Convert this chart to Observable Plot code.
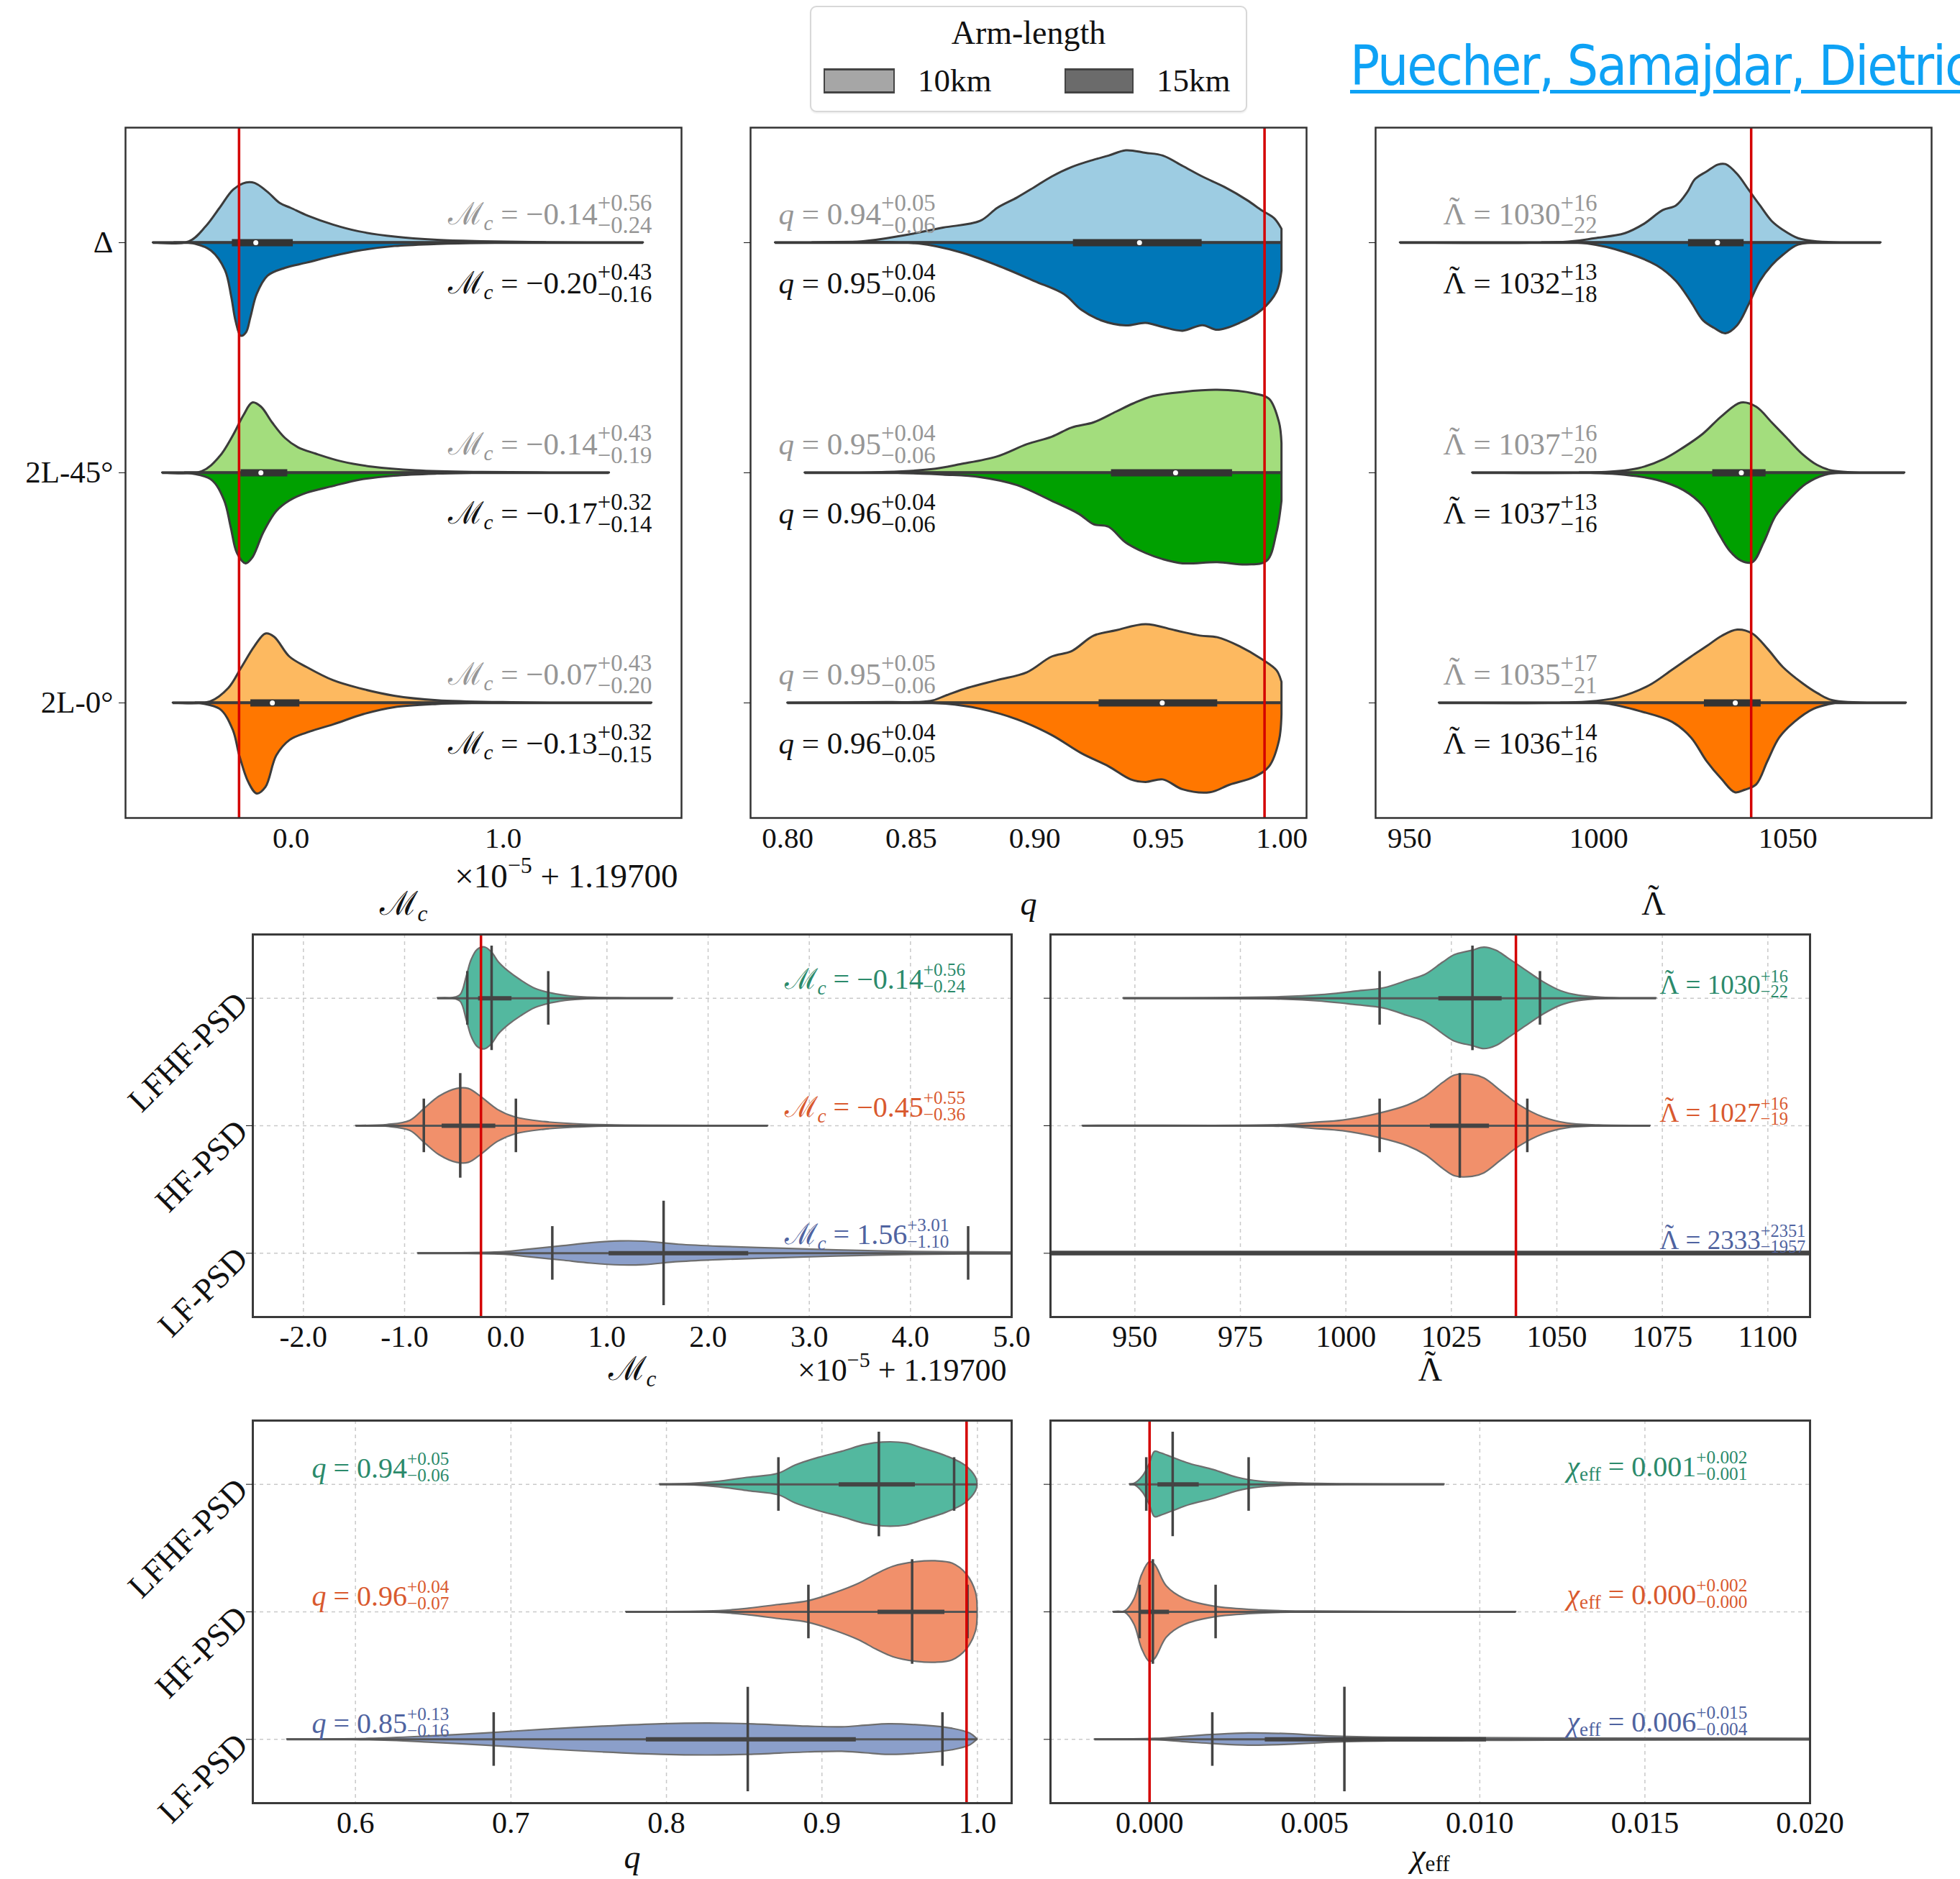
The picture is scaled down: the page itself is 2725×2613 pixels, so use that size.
<!DOCTYPE html>
<html>
<head>
<meta charset="utf-8">
<script src="https://cdn.jsdelivr.net/npm/d3@7"></script>
<script src="https://cdn.jsdelivr.net/npm/@observablehq/plot@0.6"></script>
<style>
  html, body { margin: 0; padding: 0; background: #fff; }
  body { width: 2725px; height: 2613px; position: relative; overflow: hidden; font-family: "Liberation Serif", "DejaVu Serif", serif; }
  .panel { position: absolute; }
  #legend { position: absolute; left: 1126px; top: 8px; width: 608px; height: 148px; box-sizing: border-box;
            border: 2px solid #d8d8d8; border-radius: 9px; background: #fff; box-shadow: 0 2px 2px rgba(0,0,0,0.06); }
  #legend .title { position: absolute; left: 0; width: 100%; top: 13px; text-align: center; font-size: 46px; line-height: 46px; color: #111; }
  #legend .sw { position: absolute; top: 85px; height: 35px; box-sizing: border-box; border: 2px solid #444; border-top-width: 3px; border-bottom-width: 3px; }
  #legend .lab { position: absolute; top: 79px; font-size: 45px; line-height: 46px; color: #111; }
  #ref { position: absolute; left: 1877px; top: 54px; font-family: "DejaVu Sans Condensed", "DejaVu Sans", sans-serif; font-stretch: condensed;
         font-size: 76px; line-height: 76px; letter-spacing: -2px; color: #0ea2f5; text-decoration: underline; text-decoration-thickness: 5px;
         text-underline-offset: 7px; white-space: nowrap; }
</style>
</head>
<body>
<div id="legend"></div>
<div id="ref">Puecher, Samajdar, Dietrich</div>
<script>
// ---------- categories ----------
const rowsTop = ["Δ", "2L-45°", "2L-0°"];
const rowsPsd = ["LFHF-PSD", "HF-PSD", "LF-PSD"];
const armLengths = ["10km", "15km"];
const armSwatch = ["#a6a6a6", "#6b6b6b"];

// ---------- colours ----------
const topLight = ["#9dcce2", "#a3dd7d", "#fdb960"];
const topDark = ["#0077b8", "#00a000", "#ff7700"];
const psdFill = ["#53b89f", "#f1906b", "#8b9fca"];
const psdText = ["#2b8a6b", "#d9592e", "#4f63a0"];

// ---------- injected (true) values ----------
const truthMc = -0.245;     // in units of 1e-5, offset 1.19700
const truthQ = 0.993;
const truthLambda = 1040.3;
const truthChi = 0.0;

// ---------- top row: split violins, [value, half-width in row units] ----------
// chirp mass (x 1e-5 + 1.19700)
const mc10 = [
  [[-0.65,0],[-0.48,0.004],[-0.40,0.07],[-0.335,0.15],[-0.27,0.23],[-0.21,0.26],[-0.17,0.258],[-0.11,0.22],[-0.05,0.17],[0.0,0.15],[0.08,0.116],[0.2,0.077],[0.32,0.048],[0.49,0.025],[0.69,0.011],[0.9,0.005],[1.2,0.001],[1.66,0]],
  [[-0.606,0],[-0.42,0.005],[-0.335,0.07],[-0.273,0.16],[-0.222,0.25],[-0.181,0.304],[-0.14,0.286],[-0.088,0.218],[-0.027,0.15],[0.035,0.109],[0.117,0.082],[0.24,0.048],[0.384,0.025],[0.589,0.009],[0.9,0.002],[1.5,0]],
  [[-0.556,0],[-0.38,0.005],[-0.294,0.063],[-0.232,0.154],[-0.171,0.245],[-0.119,0.30],[-0.078,0.286],[-0.006,0.2],[0.076,0.154],[0.2,0.097],[0.322,0.063],[0.487,0.03],[0.69,0.01],[1.0,0.002],[1.7,0]]
];
const mc15 = [
  [[-0.55,0],[-0.45,0.006],[-0.375,0.036],[-0.31,0.12],[-0.28,0.236],[-0.26,0.34],[-0.235,0.406],[-0.21,0.39],[-0.19,0.326],[-0.16,0.224],[-0.109,0.145],[-0.027,0.111],[0.076,0.088],[0.2,0.059],[0.32,0.036],[0.49,0.016],[0.69,0.007],[0.9,0.002],[1.2,0]],
  [[-0.5,0],[-0.376,0.03],[-0.314,0.12],[-0.283,0.236],[-0.253,0.35],[-0.212,0.395],[-0.181,0.37],[-0.129,0.26],[-0.068,0.168],[-0.006,0.122],[0.076,0.088],[0.2,0.059],[0.322,0.032],[0.487,0.014],[0.69,0.005],[1.0,0]],
  [[-0.45,0],[-0.335,0.027],[-0.273,0.118],[-0.242,0.23],[-0.2,0.345],[-0.16,0.395],[-0.119,0.367],[-0.068,0.23],[-0.006,0.163],[0.076,0.13],[0.2,0.095],[0.343,0.05],[0.487,0.02],[0.69,0.006],[1.0,0]]
];
const mcRange = [[-0.65,1.66],[-0.606,1.499],[-0.556,1.70]];
const mcBox = [[-0.277,0.01],[-0.236,-0.016],[-0.19,0.041]];
const mcMid = [-0.166,-0.142,-0.088];
const mc10Med = [-0.14,-0.14,-0.07], mc10Plus = [0.56,0.43,0.43], mc10Minus = [0.24,0.19,0.20];
const mc15Med = [-0.20,-0.17,-0.13], mc15Plus = [0.43,0.32,0.32], mc15Minus = [0.16,0.14,0.15];

// mass ratio
const q10 = [
  [[0.795,0],[0.83,0.004],[0.848,0.032],[0.863,0.064],[0.878,0.093],[0.885,0.15],[0.893,0.195],[0.9,0.24],[0.907,0.286],[0.915,0.327],[0.924,0.359],[0.93,0.377],[0.937,0.40],[0.945,0.389],[0.952,0.377],[0.96,0.332],[0.968,0.286],[0.977,0.24],[0.986,0.184],[0.992,0.139],[0.997,0.105],[1.0,0.059]],
  [[0.807,0],[0.84,0.002],[0.858,0.014],[0.87,0.036],[0.885,0.07],[0.897,0.123],[0.907,0.155],[0.915,0.195],[0.924,0.218],[0.933,0.264],[0.94,0.30],[0.948,0.332],[0.96,0.35],[0.974,0.359],[0.989,0.343],[0.995,0.32],[0.999,0.218],[1.0,0.127]],
  [[0.80,0],[0.84,0.002],[0.858,0.007],[0.864,0.03],[0.873,0.064],[0.885,0.098],[0.897,0.132],[0.907,0.20],[0.915,0.223],[0.924,0.291],[0.933,0.314],[0.945,0.341],[0.957,0.314],[0.967,0.291],[0.974,0.284],[0.983,0.245],[0.992,0.189],[0.998,0.14],[1.0,0.09]]
];
const q15 = [
  [[0.81,0],[0.853,0.005],[0.87,0.043],[0.885,0.10],[0.9,0.168],[0.912,0.225],[0.919,0.293],[0.927,0.339],[0.937,0.361],[0.945,0.35],[0.952,0.368],[0.96,0.384],[0.968,0.36],[0.974,0.38],[0.983,0.35],[0.992,0.293],[0.998,0.214],[1.0,0.123]],
  [[0.84,0],[0.863,0.009],[0.878,0.02],[0.893,0.055],[0.907,0.123],[0.918,0.18],[0.924,0.225],[0.93,0.236],[0.937,0.305],[0.945,0.35],[0.952,0.377],[0.96,0.395],[0.974,0.39],[0.986,0.40],[0.994,0.384],[0.998,0.26],[1.0,0.123]],
  [[0.85,0],[0.864,0.005],[0.878,0.027],[0.893,0.073],[0.907,0.141],[0.919,0.22],[0.93,0.277],[0.939,0.334],[0.945,0.345],[0.952,0.334],[0.96,0.377],[0.971,0.39],[0.979,0.357],[0.989,0.323],[0.995,0.277],[0.999,0.164],[1.0,0.05]]
];
const qRange = [[0.795,1.0],[0.807,1.0],[0.80,1.0]];
const qBox = [[0.9156,0.9677],[0.931,0.98],[0.926,0.974]];
const qMid = [0.9424,0.957,0.9516];
const q10Med = [0.94,0.95,0.95], q10Plus = [0.05,0.04,0.05], q10Minus = [0.06,0.06,0.06];
const q15Med = [0.95,0.96,0.96], q15Plus = [0.04,0.04,0.04], q15Minus = [0.06,0.06,0.05];

// tidal deformability
const lam10 = [
  [[947.5,0],[992,0.003],[999,0.018],[1007,0.04],[1012,0.08],[1017,0.14],[1020.5,0.16],[1023.5,0.218],[1025.5,0.274],[1028.6,0.308],[1031.6,0.338],[1033.6,0.34],[1036.7,0.297],[1039.7,0.229],[1042.7,0.161],[1045.8,0.093],[1048.8,0.054],[1052.8,0.018],[1057.9,0.004],[1074.6,0]],
  [[966.6,0],[1002,0.002],[1010.4,0.018],[1017.4,0.059],[1022.5,0.109],[1027.6,0.168],[1032.6,0.245],[1037.7,0.304],[1041.7,0.286],[1045.8,0.218],[1049.8,0.15],[1053.8,0.082],[1057.9,0.032],[1061.9,0.008],[1080.9,0]],
  [[957.8,0],[997,0.004],[1005.3,0.023],[1013.4,0.075],[1019.5,0.143],[1024.5,0.2],[1028.6,0.245],[1032.6,0.29],[1036.7,0.317],[1040.7,0.3],[1044.7,0.234],[1048.8,0.154],[1053.8,0.086],[1057.9,0.041],[1061.9,0.01],[1081.3,0]]
];
const lam15 = [
  [[985,0],[997,0.005],[1007,0.043],[1015.4,0.1],[1020.5,0.168],[1024.5,0.259],[1027.6,0.338],[1030.6,0.372],[1033.6,0.395],[1036.7,0.36],[1039.7,0.27],[1042.7,0.168],[1045.8,0.1],[1048.8,0.054],[1052.8,0.01],[1060,0]],
  [[995,0],[1007,0.01],[1015.4,0.032],[1022.5,0.077],[1027.6,0.145],[1031.6,0.259],[1034.6,0.338],[1037.7,0.383],[1040.7,0.39],[1043.7,0.304],[1046.8,0.19],[1050.8,0.111],[1054.8,0.05],[1059.9,0.01],[1066,0]],
  [[990,0],[1002,0.004],[1011.4,0.039],[1019.5,0.084],[1024.5,0.152],[1028.6,0.254],[1032.6,0.333],[1036.1,0.39],[1038.7,0.379],[1041.7,0.356],[1044.7,0.254],[1047.8,0.152],[1051.8,0.084],[1056.9,0.027],[1063,0]]
];
const lamRange = [[947.5,1074.6],[966.6,1080.9],[957.8,1081.3]];
const lamBox = [[1023.7,1038.4],[1030.1,1044.2],[1027.9,1042.9]];
const lamMid = [1031.4,1037.7,1036.1];
const lam10Med = [1030,1037,1035], lam10Plus = [16,16,17], lam10Minus = [22,20,21];
const lam15Med = [1032,1037,1036], lam15Plus = [13,13,14], lam15Minus = [18,16,16];

// ---------- PSD comparison: symmetric violins, [value, half-width] ----------
const mcPsd = [
  [[-0.673,0],[-0.517,0.003],[-0.446,0.028],[-0.387,0.17],[-0.339,0.30],[-0.28,0.38],[-0.209,0.40],[-0.138,0.36],[-0.067,0.28],[0.028,0.21],[0.147,0.142],[0.289,0.076],[0.455,0.038],[0.644,0.015],[0.881,0.004],[1.2,0.001],[1.653,0]],
  [[-1.481,0],[-1.17,0.007],[-0.944,0.04],[-0.80,0.136],[-0.656,0.23],[-0.482,0.29],[-0.367,0.29],[-0.25,0.23],[-0.078,0.125],[0.095,0.066],[0.383,0.03],[0.67,0.014],[1.0,0.005],[1.5,0.001],[2.593,0]],
  [[-0.869,0],[-0.02,0.01],[0.21,0.028],[0.556,0.056],[0.845,0.08],[1.133,0.094],[1.364,0.092],[1.71,0.068],[2.114,0.052],[2.69,0.038],[3.27,0.024],[3.845,0.014],[4.42,0.009],[5.0,0.007],[6.0,0.005]]
];
const mcPsdRange = [[-0.673,1.653],[-1.481,2.593],[-0.869,6.0]];
const mcPsdIqr = [[-0.27,0.06],[-0.63,-0.10],[1.02,2.40]];
const mcPsdMed = [-0.14,-0.45,1.56], mcPsdPlus = [0.56,0.55,3.01], mcPsdMinus = [0.24,0.36,1.10];

const lamPsd = [
  [[947.3,0],[985.3,0.01],[993.7,0.024],[1002.1,0.052],[1009.1,0.08],[1014.7,0.139],[1018.9,0.186],[1023,0.28],[1025.8,0.339],[1030,0.374],[1032.8,0.398],[1035.6,0.374],[1038.4,0.315],[1042.6,0.22],[1046.8,0.127],[1051,0.056],[1055.2,0.021],[1060.8,0.005],[1073.6,0]],
  [[937.6,0],[985.3,0.007],[992.3,0.024],[999.3,0.042],[1007.7,0.094],[1014.7,0.16],[1018.9,0.23],[1023,0.336],[1025.8,0.395],[1030,0.40],[1032.8,0.372],[1037,0.266],[1041.2,0.16],[1046.8,0.066],[1052.4,0.019],[1060,0.004],[1072.2,0]],
  [[900,0.011],[1000,0.011],[1100,0.012],[1200,0.012]]
];
const lamPsdRange = [[947.3,1073.6],[937.6,1072.2],[900,1200]];
const lamPsdIqr = [[1022,1037],[1020,1034],[880,3600]];
const lamPsdMed = [1030,1027,2333], lamPsdPlus = [16,16,2351], lamPsdMinus = [22,19,1957];

const qPsd = [
  [[0.7957,0],[0.8156,0.005],[0.834,0.022],[0.853,0.053],[0.872,0.084],[0.883,0.149],[0.898,0.209],[0.913,0.257],[0.928,0.31],[0.939,0.329],[0.954,0.322],[0.965,0.281],[0.98,0.221],[0.992,0.149],[0.999,0.053],[1.0,0]],
  [[0.774,0],[0.834,0.007],[0.853,0.026],[0.872,0.055],[0.891,0.084],[0.909,0.151],[0.924,0.223],[0.935,0.295],[0.946,0.355],[0.961,0.391],[0.973,0.398],[0.984,0.379],[0.993,0.295],[0.999,0.151],[1.0,0]],
  [[0.556,0],[0.609,0.005],[0.647,0.024],[0.684,0.048],[0.722,0.077],[0.759,0.101],[0.797,0.12],[0.827,0.125],[0.853,0.12],[0.891,0.101],[0.913,0.096],[0.928,0.108],[0.943,0.12],[0.966,0.108],[0.984,0.084],[0.995,0.048],[1.0,0]]
];
const qPsdRange = [[0.7957,1.0],[0.774,1.0],[0.556,1.0]];
const qPsdIqr = [[0.911,0.96],[0.936,0.979],[0.787,0.922]];
const qPsdMed = [0.9366,0.958,0.8523], qPsdPlus = [0.0484,0.0356,0.1252], qPsdMinus = [0.0646,0.0667,0.1634];

const chiPsd = [
  [[-0.0006,0],[-0.00046,0.005],[-0.0002,0.065],[0,0.16],[0.00016,0.256],[0.00034,0.245],[0.0007,0.21],[0.00123,0.16],[0.00194,0.113],[0.00266,0.053],[0.00337,0.022],[0.00462,0.007],[0.006,0.002],[0.00893,0]],
  [[-0.0011,0],[-0.00073,0.007],[-0.00046,0.1],[-0.00023,0.29],[0,0.39],[0.00016,0.37],[0.00052,0.2],[0.00105,0.103],[0.00194,0.043],[0.00337,0.012],[0.005,0.003],[0.0111,0]],
  [[-0.00166,0],[0.00016,0.005],[0.00123,0.024],[0.00194,0.036],[0.003,0.048],[0.00408,0.043],[0.0055,0.024],[0.0073,0.014],[0.0109,0.01],[0.0144,0.007],[0.02,0.006],[0.025,0.005]]
];
const chiPsdRange = [[-0.0006,0.00893],[-0.0011,0.0111],[-0.00166,0.03]];
const chiPsdIqr = [[0.00025,0.0015],[-0.0003,0.0006],[0.0035,0.0102]];
const chiPsdMed = [0.0007,0.0001,0.0059], chiPsdPlus = [0.0023,0.0019,0.0151], chiPsdMinus = [0.0008,0.0004,0.0040];

// ---------- tick values ----------
const mcTopTicks = [0, 1];
const qTopTicks = [0.80, 0.85, 0.90, 0.95, 1.00];
const lamTopTicks = [950, 1000, 1050];
const mcPsdTicks = [-2, -1, 0, 1, 2, 3, 4, 5];
const lamPsdTicks = [950, 975, 1000, 1025, 1050, 1075, 1100];
const qPsdTicks = [0.6, 0.7, 0.8, 0.9, 1.0];
const chiPsdTicks = [0, 0.005, 0.01, 0.015, 0.02];

// ---------- rich text helpers ----------
const SERIF = '"Liberation Serif", "DejaVu Serif", serif';
const fmtNum = (v, d) => (v < 0 ? "−" : "") + Math.abs(v).toFixed(d);
const symMc = [{t: "ℳ"}, {t: "c", it: true, sz: 0.68, base: 0.2}];
const symQ = [{t: "q", it: true}];
const symLam = [{t: "Λ", accent: "˜", accentBase: -0.2}];
const symChi = [{t: "χ", it: true}, {t: "eff", sz: 0.68, base: 0.15}];
const offsetSegs = [{t: "×10"}, {t: "−5", sz: 0.68, base: -0.42}, {t: " + 1.19700"}];

function valueSegs(sym, med, plus, minus, d, st) {
  return [...sym, {t: " = " + fmtNum(med, d)},
    {stack: true, sup: "+" + plus.toFixed(d), sub: "−" + minus.toFixed(d), sz: st.sz, supBase: st.sup, subBase: st.sub}];
}
const plain = segs => segs.map(s => s.stack ? s.sup + s.sub : s.t).join("");

// rebuild matching text nodes of the plot as styled tspans (subscripts, accents, stacked errors)
function richify(svg, items, fs) {
  const lookup = new Map(items.map(segs => [plain(segs), segs]));
  svg.querySelectorAll("text").forEach(node => {
    const segs = lookup.get(node.textContent);
    if (!segs) return;
    node.textContent = "";
    node.style.whiteSpace = "pre";
    const sel = d3.select(node);
    let cur = 0, pendingDx = 0;
    const put = (t, o) => {
      const ts = sel.append("tspan").text(t);
      const base = (o.base || 0) * fs;
      if (base !== cur) ts.attr("dy", base - cur);
      cur = base;
      if (o.it) ts.attr("font-style", "italic");
      if (o.sz) ts.attr("font-size", o.sz * fs);
      const dx = (o.dx || 0) + pendingDx;
      pendingDx = 0;
      if (dx) ts.attr("dx", dx);
      return ts;
    };
    for (const s of segs) {
      if (s.stack) {
        const a = put(s.sup, {sz: s.sz, base: s.supBase});
        const w = a.node().getComputedTextLength();
        put(s.sub, {sz: s.sz, base: s.subBase, dx: -w});
      } else if (s.accent) {
        const b = put(s.t, s);
        const w1 = b.node().getComputedTextLength();
        const a = put(s.accent, {base: (s.base || 0) + s.accentBase});
        const w2 = a.node().getComputedTextLength();
        a.attr("dx", -(w1 + w2) / 2);
        pendingDx = (w1 - w2) / 2;
      } else put(s.t, s);
    }
  });
}

function mount(svg, left, top) {
  const div = document.createElement("div");
  div.className = "panel";
  div.style.left = left + "px";
  div.style.top = top + "px";
  div.append(svg);
  document.body.append(div);
  return svg;
}

// ---------- top row: split violins per arm length ----------
function topPanel(c) {
  const marks = [];
  for (let r = 0; r < 3; r++) {
    marks.push(Plot.areaY(c.light[r], {x: d => d[0], y1: () => r, y2: d => r - d[1], fill: topLight[r],
      stroke: "#3b3b3b", strokeWidth: 3, curve: "catmull-rom", clip: true}));
    marks.push(Plot.areaY(c.dark[r], {x: d => d[0], y1: () => r, y2: d => r + d[1], fill: topDark[r],
      stroke: "#3b3b3b", strokeWidth: 3, curve: "catmull-rom", clip: true}));
  }
  const stats = [0, 1, 2].map(r => ({row: r, lo: c.range[r][0], hi: c.range[r][1], q1: c.box[r][0], q3: c.box[r][1], med: c.mid[r]}));
  const st = {sz: 0.76, sup: -0.44, sub: 0.3};
  const a10 = [0, 1, 2].map(r => valueSegs(c.sym, c.m10[r], c.p10[r], c.n10[r], c.dec, st));
  const a15 = [0, 1, 2].map(r => valueSegs(c.sym, c.m15[r], c.p15[r], c.n15[r], c.dec, st));
  marks.push(
    Plot.ruleY(stats, {y: "row", x1: "lo", x2: "hi", stroke: "#3b3b3b", strokeWidth: 3.5, clip: true}),
    Plot.ruleY(stats, {y: "row", x1: "q1", x2: "q3", stroke: "#333", strokeWidth: 10}),
    Plot.dot(stats, {x: "med", y: "row", r: 3.5, fill: "white"}),
    Plot.ruleX([c.truth], {stroke: "#d40000", strokeWidth: 3.5}),
    Plot.frame({stroke: "#333", strokeWidth: 2.5}),
    Plot.axisX({ticks: c.ticks, tickFormat: c.tickFmt, tickSize: 0, tickPadding: 12, label: null, fontSize: 41}),
    Plot.axisY({ticks: [0, 1, 2], tickFormat: i => c.yLabels ? rowsTop[i] : "", tickSize: 9, tickPadding: 8, label: null, fontSize: 43}),
    Plot.text([0, 1, 2], {y: d => d, frameAnchor: "left", dx: c.annDx, dy: -26, text: i => plain(a10[i]),
      fill: "#969696", fontSize: 43, textAnchor: "start", lineAnchor: "bottom"}),
    Plot.text([0, 1, 2], {y: d => d, frameAnchor: "left", dx: c.annDx, dy: 70, text: i => plain(a15[i]),
      fill: "#111", fontSize: 43, textAnchor: "start", lineAnchor: "bottom"}),
    Plot.text([0], {frameAnchor: "bottom", dy: 134, text: () => plain(c.title), fill: "#111", fontSize: 46,
      textAnchor: "middle", lineAnchor: "bottom"})
  );
  if (c.offset) marks.push(Plot.text([0], {frameAnchor: "bottom-right", dx: -5, dy: 96, text: () => plain(offsetSegs),
    fill: "#111", fontSize: 47, textAnchor: "end", lineAnchor: "bottom"}));
  const svg = Plot.plot({
    width: c.width, height: 1140, marginLeft: c.mL, marginRight: c.mR, marginTop: 17, marginBottom: 163,
    style: {fontFamily: SERIF, fontSize: "41px", background: "transparent", color: "#111", overflow: "visible"},
    x: {domain: c.domain, label: null},
    y: {domain: [2.5, -0.5], label: null},
    marks
  });
  mount(svg, c.left, 160);
  richify(svg, [...a10, ...a15], 43);
  richify(svg, [c.title], 46);
  if (c.offset) richify(svg, [offsetSegs], 47);
}

// ---------- lower rows: PSD comparison ----------
function psdPanel(c) {
  const marks = [
    Plot.gridX({ticks: c.ticks, stroke: "#c9c9c9", strokeOpacity: 1, strokeWidth: 1.5, strokeDasharray: "5,5"}),
    Plot.gridY({ticks: [0, 1, 2], stroke: "#c9c9c9", strokeOpacity: 1, strokeWidth: 1.5, strokeDasharray: "5,5"})
  ];
  for (let r = 0; r < 3; r++) {
    marks.push(Plot.areaY(c.shapes[r], {x: d => d[0], y1: d => r + d[1], y2: d => r - d[1], fill: psdFill[r],
      stroke: "#6e6e6e", strokeWidth: 2.2, curve: "catmull-rom", clip: true}));
  }
  const stats = [0, 1, 2].map(r => ({row: r, lo: c.range[r][0], hi: c.range[r][1], q1: c.iqr[r][0], q3: c.iqr[r][1],
    med: c.med[r], low: c.med[r] - c.minus[r], high: c.med[r] + c.plus[r]}));
  const st = {sz: c.supSz, sup: -0.45, sub: 0.13};
  const ann = [0, 1, 2].map(r => valueSegs(c.sym, c.med[r], c.plus[r], c.minus[r], c.dec, st));
  marks.push(
    Plot.ruleY(stats, {y: "row", x1: "lo", x2: "hi", stroke: "#555", strokeWidth: 3, clip: true}),
    Plot.ruleY(stats, {y: "row", x1: "q1", x2: "q3", stroke: "#444", strokeWidth: 6, clip: true}),
    Plot.ruleX(stats, {x: "med", y1: d => d.row - 0.41, y2: d => d.row + 0.41, stroke: "#444", strokeWidth: 3.5, clip: true}),
    Plot.ruleX(stats, {x: "low", y1: d => d.row - 0.21, y2: d => d.row + 0.21, stroke: "#444", strokeWidth: 3.5, clip: true}),
    Plot.ruleX(stats, {x: "high", y1: d => d.row - 0.21, y2: d => d.row + 0.21, stroke: "#444", strokeWidth: 3.5, clip: true}),
    Plot.ruleX([c.truth], {stroke: "#d40000", strokeWidth: 3.5}),
    Plot.frame({stroke: "#3a3a3a", strokeWidth: 3}),
    Plot.axisX({ticks: c.ticks, tickFormat: c.tickFmt, tickSize: 0, tickPadding: 12, label: null, fontSize: 42}),
    Plot.axisY({ticks: [0, 1, 2], tickFormat: i => c.yLabels ? rowsPsd[i] : "", tickRotate: c.yLabels ? -45 : 0,
      tickSize: 9, tickPadding: 6, label: null, fontSize: 46}),
    Plot.text([0, 1, 2], {y: d => d, frameAnchor: "left", dx: c.annDx, dy: c.annDy, text: i => plain(ann[i]),
      fill: i => psdText[i], fontSize: c.annFs, textAnchor: "start", lineAnchor: "bottom"}),
    Plot.text([0], {frameAnchor: "bottom", dy: c.titleDy, text: () => plain(c.title), fill: "#111", fontSize: 46,
      textAnchor: "middle", lineAnchor: "bottom"})
  );
  if (c.offset) marks.push(Plot.text([0], {frameAnchor: "bottom-right", dx: -7, dy: 88, text: () => plain(offsetSegs),
    fill: "#111", fontSize: 44, textAnchor: "end", lineAnchor: "bottom"}));
  const svg = Plot.plot({
    width: c.width, height: c.height, marginLeft: c.mL, marginRight: c.mR, marginTop: c.mT, marginBottom: c.mB,
    style: {fontFamily: SERIF, fontSize: "42px", background: "transparent", color: "#111", overflow: "visible"},
    x: {domain: c.domain, label: null},
    y: {domain: [2.5, -0.5], label: null},
    marks
  });
  mount(svg, c.left, c.top);
  richify(svg, ann, c.annFs);
  richify(svg, [c.title], 46);
  if (c.offset) richify(svg, [offsetSegs], 44);
}

// ---------- legend ----------
(function legend() {
  const lg = document.getElementById("legend");
  const t = document.createElement("div");
  t.className = "title";
  t.textContent = "Arm-length";
  lg.append(t);
  const swLeft = [17, 352], labLeft = [148, 480], swWidth = [99, 96];
  armLengths.forEach((name, i) => {
    const sw = document.createElement("div");
    sw.className = "sw";
    sw.style.left = swLeft[i] + "px";
    sw.style.width = swWidth[i] + "px";
    sw.style.background = armSwatch[i];
    const lab = document.createElement("div");
    lab.className = "lab";
    lab.style.left = labLeft[i] + "px";
    lab.textContent = name;
    lg.append(sw, lab);
  });
})();

// ---------- draw ----------
topPanel({left: 0, width: 980, mL: 174, mR: 33, domain: [-0.78, 1.84], ticks: mcTopTicks, tickFmt: d => d.toFixed(1),
  yLabels: true, light: mc10, dark: mc15, range: mcRange, box: mcBox, mid: mcMid, truth: truthMc,
  m10: mc10Med, p10: mc10Plus, n10: mc10Minus, m15: mc15Med, p15: mc15Plus, n15: mc15Minus, dec: 2,
  sym: symMc, annDx: 448, title: symMc, offset: true});
topPanel({left: 975, width: 880, mL: 68, mR: 39, domain: [0.785, 1.010], ticks: qTopTicks, tickFmt: d => d.toFixed(2),
  yLabels: false, light: q10, dark: q15, range: qRange, box: qBox, mid: qMid, truth: truthQ,
  m10: q10Med, p10: q10Plus, n10: q10Minus, m15: q15Med, p15: q15Plus, n15: q15Minus, dec: 2,
  sym: symQ, annDx: 39, title: symQ, offset: false});
topPanel({left: 1860, width: 865, mL: 52, mR: 40, domain: [941, 1088], ticks: lamTopTicks, tickFmt: d => String(d),
  yLabels: false, light: lam10, dark: lam15, range: lamRange, box: lamBox, mid: lamMid, truth: truthLambda,
  m10: lam10Med, p10: lam10Plus, n10: lam10Minus, m15: lam15Med, p15: lam15Plus, n15: lam15Minus, dec: 0,
  sym: symLam, annDx: 94, title: symLam, offset: false});

const midRow = {top: 1290, height: 660, mT: 9, mB: 119};
const botRow = {top: 1950, height: 663, mT: 25, mB: 106};

psdPanel({...midRow, left: 0, width: 1440, mL: 351, mR: 34, domain: [-2.5, 5.0], ticks: mcPsdTicks, tickFmt: d => d.toFixed(1),
  yLabels: true, shapes: mcPsd, range: mcPsdRange, iqr: mcPsdIqr, med: mcPsdMed, plus: mcPsdPlus, minus: mcPsdMinus,
  truth: truthMc, dec: 2, sym: symMc, annDx: 739, annDy: -13, annFs: 40, supSz: 0.63, title: symMc, titleDy: 87, offset: true});
psdPanel({...midRow, left: 1440, width: 1285, mL: 20, mR: 209, domain: [930, 1110], ticks: lamPsdTicks, tickFmt: d => String(d),
  yLabels: false, shapes: lamPsd, range: lamPsdRange, iqr: lamPsdIqr, med: lamPsdMed, plus: lamPsdPlus, minus: lamPsdMinus,
  truth: truthLambda, dec: 0, sym: symLam, annDx: 847, annDy: -6, annFs: 37, supSz: 0.66, title: symLam, titleDy: 88, offset: false});
psdPanel({...botRow, left: 0, width: 1440, mL: 351, mR: 34, domain: [0.534, 1.022], ticks: qPsdTicks, tickFmt: d => d.toFixed(1),
  yLabels: true, shapes: qPsd, range: qPsdRange, iqr: qPsdIqr, med: qPsdMed, plus: qPsdPlus, minus: qPsdMinus,
  truth: truthQ, dec: 2, sym: symQ, annDx: 82, annDy: -9, annFs: 40, supSz: 0.63, title: symQ, titleDy: 90, offset: false});
psdPanel({...botRow, left: 1440, width: 1285, mL: 20, mR: 209, domain: [-0.003, 0.020], ticks: chiPsdTicks, tickFmt: d => d.toFixed(3),
  yLabels: false, shapes: chiPsd, range: chiPsdRange, iqr: chiPsdIqr, med: chiPsdMed, plus: chiPsdPlus, minus: chiPsdMinus,
  truth: truthChi, dec: 3, sym: symChi, annDx: 718, annDy: -11, annFs: 40, supSz: 0.63, title: symChi, titleDy: 88, offset: false});
</script>
</body>
</html>
